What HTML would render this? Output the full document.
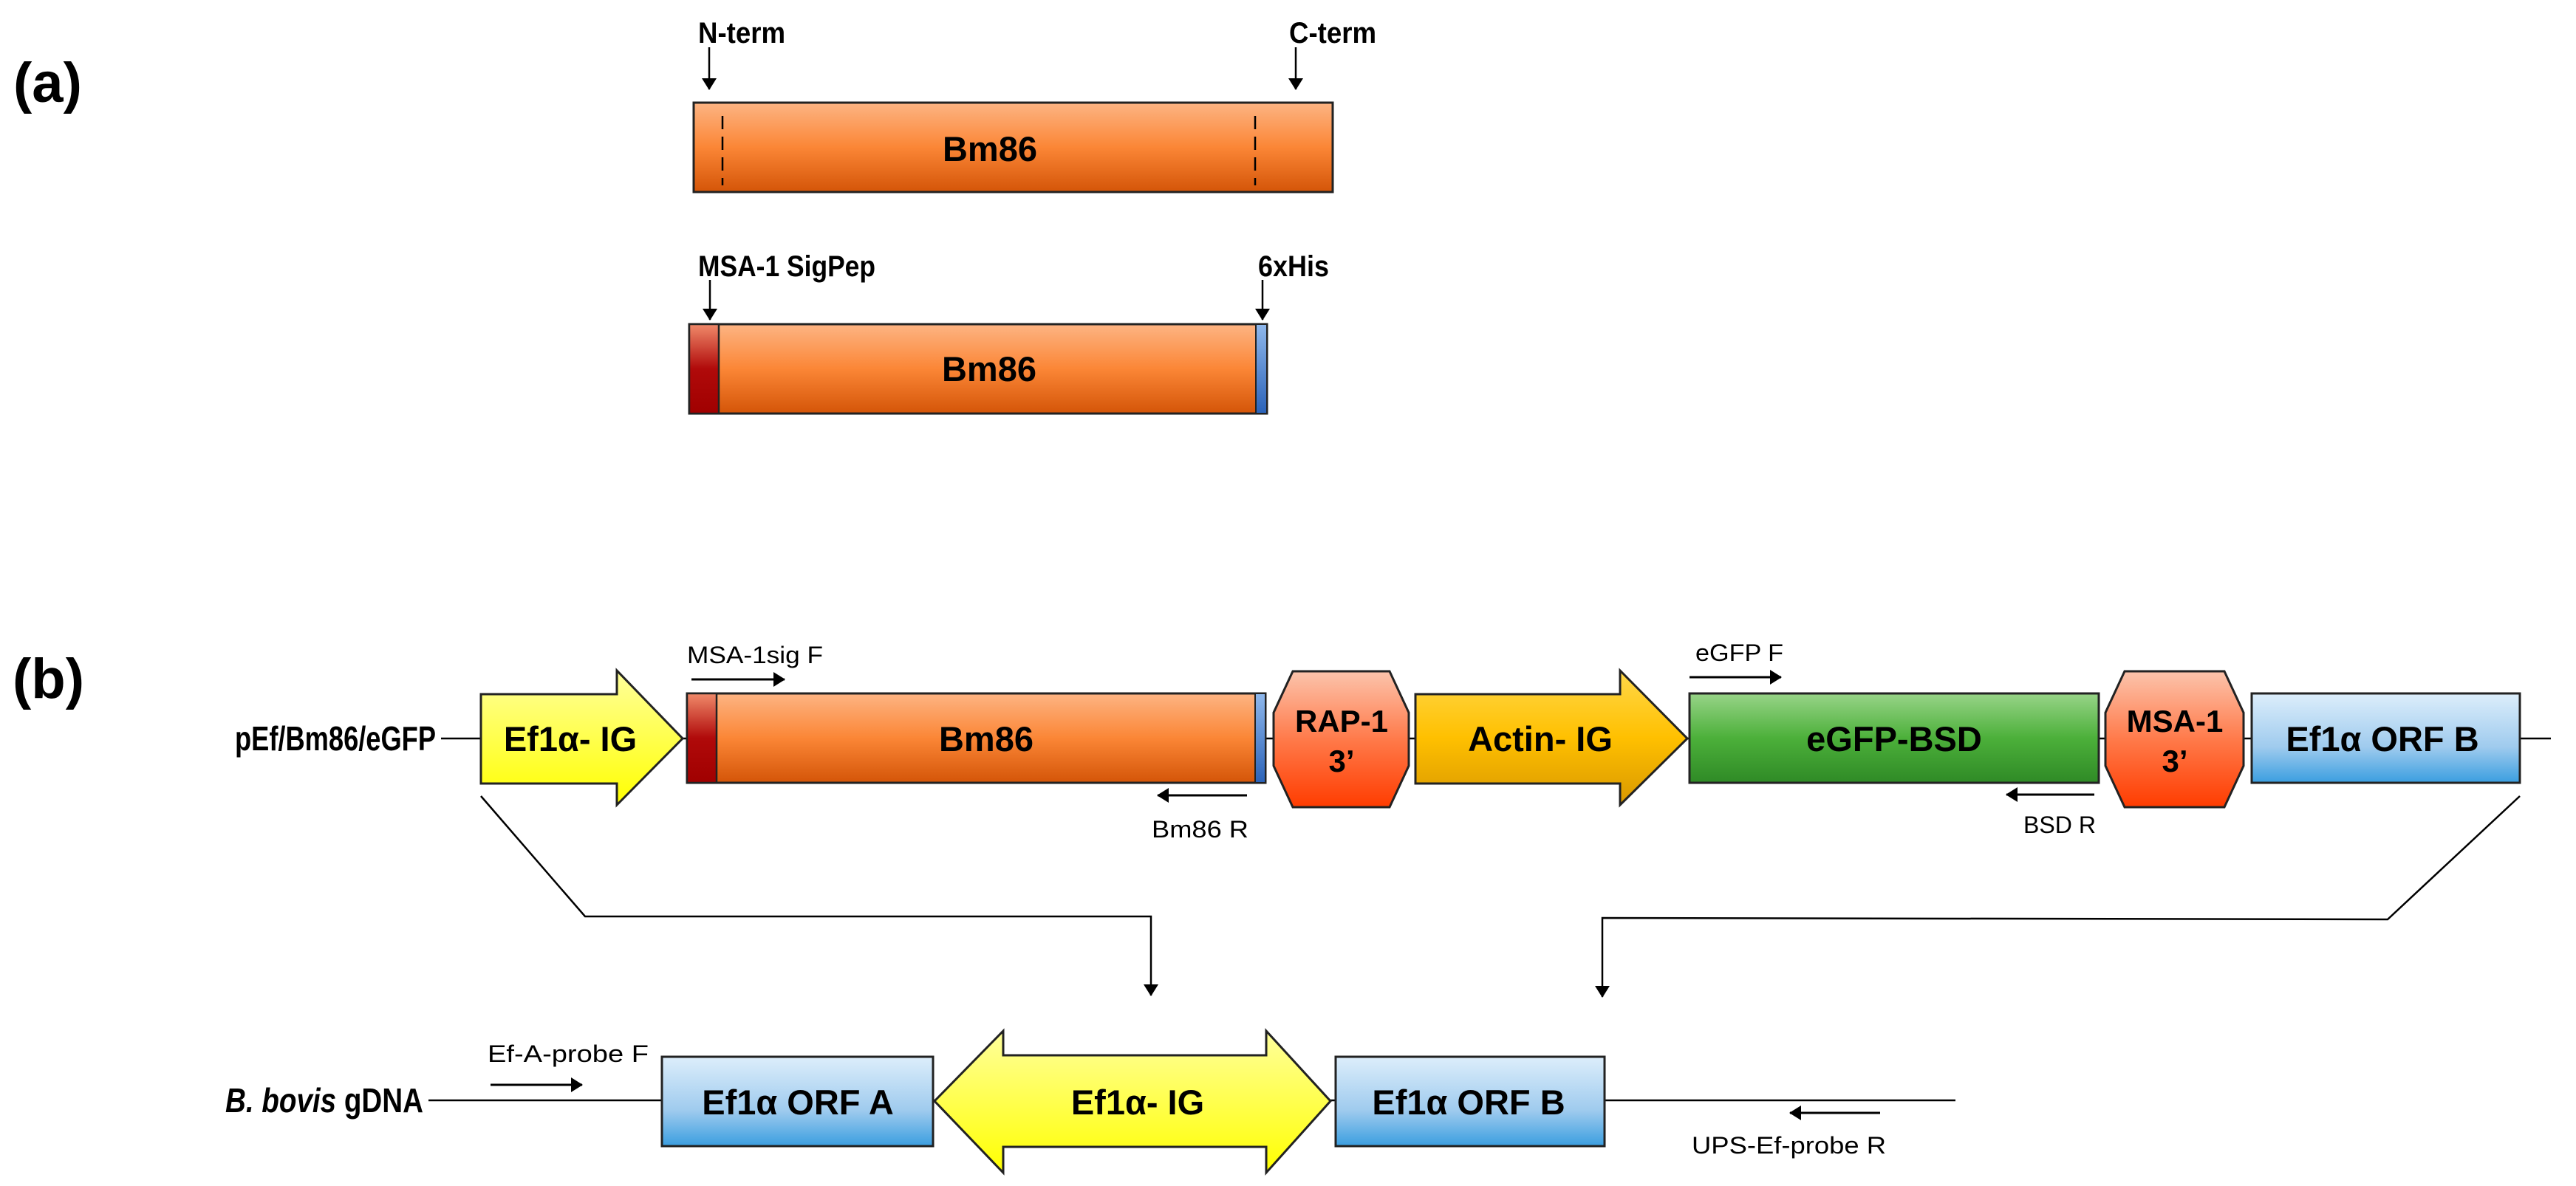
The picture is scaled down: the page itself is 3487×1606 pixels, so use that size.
<!DOCTYPE html>
<html><head><meta charset="utf-8"><style>html,body{margin:0;padding:0;background:#fff}svg{display:block}</style></head>
<body>
<svg width="3487" height="1606" viewBox="0 0 3487 1606" xmlns="http://www.w3.org/2000/svg" font-family="Liberation Sans, Arial, sans-serif">
<defs>
<linearGradient id="or" x1="0" y1="0" x2="0" y2="1"><stop offset="0" stop-color="#fdb483"/><stop offset="0.5" stop-color="#fb8636"/><stop offset="1" stop-color="#d45508"/></linearGradient>
<linearGradient id="rd" x1="0" y1="0" x2="0" y2="1"><stop offset="0" stop-color="#f08a6a"/><stop offset="0.5" stop-color="#b00a0a"/><stop offset="1" stop-color="#a00000"/></linearGradient>
<linearGradient id="bl" x1="0" y1="0" x2="0" y2="1"><stop offset="0" stop-color="#8fb8ec"/><stop offset="1" stop-color="#2a62b8"/></linearGradient>
<linearGradient id="ye" x1="0" y1="0" x2="0" y2="1"><stop offset="0" stop-color="#ffff9c"/><stop offset="1" stop-color="#ffff00"/></linearGradient>
<linearGradient id="ac" x1="0" y1="0" x2="0" y2="1"><stop offset="0" stop-color="#ffd84a"/><stop offset="0.5" stop-color="#ffc000"/><stop offset="1" stop-color="#d99800"/></linearGradient>
<linearGradient id="gr" x1="0" y1="0" x2="0" y2="1"><stop offset="0" stop-color="#98d488"/><stop offset="0.5" stop-color="#4cb03a"/><stop offset="1" stop-color="#2f8a26"/></linearGradient>
<linearGradient id="sb" x1="0" y1="0" x2="0" y2="1"><stop offset="0" stop-color="#ddeefb"/><stop offset="0.6" stop-color="#9fcbee"/><stop offset="1" stop-color="#3a9ee0"/></linearGradient>
<linearGradient id="oc" x1="0" y1="0" x2="0" y2="1"><stop offset="0" stop-color="#fcc4ac"/><stop offset="0.5" stop-color="#ff7a4a"/><stop offset="1" stop-color="#ff3c00"/></linearGradient>
<marker id="ah2" markerWidth="16" markerHeight="20" refX="15" refY="10" orient="auto" markerUnits="userSpaceOnUse"><path d="M0,0 L16,10 L0,20 Z" fill="#000"/></marker>
</defs>

<!-- (a) -->
<text x="18" y="138" font-size="76" font-weight="bold">(a)</text>
<text x="945" y="58" font-size="40" font-weight="bold" textLength="118" lengthAdjust="spacingAndGlyphs">N-term</text>
<text x="1745" y="58" font-size="40" font-weight="bold" textLength="118" lengthAdjust="spacingAndGlyphs">C-term</text>
<line x1="960" y1="64" x2="960" y2="121" stroke="#000" stroke-width="2.5" marker-end="url(#ah2)"/>
<line x1="1754" y1="64" x2="1754" y2="121" stroke="#000" stroke-width="2.5" marker-end="url(#ah2)"/>
<rect x="939" y="139" width="865" height="121" fill="url(#or)" stroke="#222" stroke-width="3"/>
<line x1="978" y1="157" x2="978" y2="251" stroke="#000" stroke-width="2.5" stroke-dasharray="18,10"/>
<line x1="1699" y1="157" x2="1699" y2="251" stroke="#000" stroke-width="2.5" stroke-dasharray="18,10"/>
<text x="1340" y="218" font-size="47" font-weight="bold" text-anchor="middle">Bm86</text>

<text x="945" y="374" font-size="40" font-weight="bold" textLength="240" lengthAdjust="spacingAndGlyphs">MSA-1 SigPep</text>
<text x="1703" y="374" font-size="40" font-weight="bold" textLength="96" lengthAdjust="spacingAndGlyphs">6xHis</text>
<line x1="961" y1="379" x2="961" y2="433" stroke="#000" stroke-width="2.5" marker-end="url(#ah2)"/>
<line x1="1709" y1="379" x2="1709" y2="433" stroke="#000" stroke-width="2.5" marker-end="url(#ah2)"/>
<rect x="933" y="439" width="782" height="121" fill="url(#or)" stroke="#222" stroke-width="3"/>
<rect x="933" y="439" width="40" height="121" fill="url(#rd)" stroke="#222" stroke-width="2.5"/>
<rect x="1700" y="439" width="15" height="121" fill="url(#bl)" stroke="#222" stroke-width="2"/>
<text x="1339" y="516" font-size="47" font-weight="bold" text-anchor="middle">Bm86</text>

<!-- (b) -->
<text x="17" y="945" font-size="76" font-weight="bold">(b)</text>
<line x1="597" y1="1000" x2="3453" y2="1000" stroke="#000" stroke-width="2.5"/>
<text x="318" y="1016" font-size="46" font-weight="bold" textLength="272" lengthAdjust="spacingAndGlyphs">pEf/Bm86/eGFP</text>

<path d="M651,940 L835,940 L835,908 L924,1000 L835,1090 L835,1061 L651,1061 Z" fill="url(#ye)" stroke="#222" stroke-width="3"/>
<text x="772" y="1017" font-size="47" font-weight="bold" text-anchor="middle">Ef1α- IG</text>

<rect x="930" y="939" width="783" height="121" fill="url(#or)" stroke="#222" stroke-width="3"/>
<rect x="930" y="939" width="40" height="121" fill="url(#rd)" stroke="#222" stroke-width="2.5"/>
<rect x="1699" y="939" width="14" height="121" fill="url(#bl)" stroke="#222" stroke-width="2"/>
<text x="1335" y="1017" font-size="47" font-weight="bold" text-anchor="middle">Bm86</text>
<text x="930" y="898" font-size="32" textLength="184" lengthAdjust="spacingAndGlyphs">MSA-1sig F</text>
<line x1="936" y1="920" x2="1062" y2="920" stroke="#000" stroke-width="3" marker-end="url(#ah2)"/>
<line x1="1688" y1="1077" x2="1567" y2="1077" stroke="#000" stroke-width="3" marker-end="url(#ah2)"/>
<text x="1559" y="1134" font-size="32" textLength="131" lengthAdjust="spacingAndGlyphs">Bm86 R</text>

<path d="M1750,909 L1881,909 L1907,965 L1907,1037 L1881,1093 L1750,1093 L1724,1037 L1724,965 Z" fill="url(#oc)" stroke="#222" stroke-width="3"/>
<text x="1816" y="991" font-size="42" font-weight="bold" text-anchor="middle">RAP-1</text>
<text x="1816" y="1045" font-size="42" font-weight="bold" text-anchor="middle">3’</text>

<path d="M1916,940 L2193,940 L2193,908 L2284,1000 L2193,1090 L2193,1061 L1916,1061 Z" fill="url(#ac)" stroke="#222" stroke-width="3"/>
<text x="2085" y="1017" font-size="47" font-weight="bold" text-anchor="middle">Actin- IG</text>

<rect x="2287" y="939" width="554" height="121" fill="url(#gr)" stroke="#222" stroke-width="3"/>
<text x="2564" y="1017" font-size="47" font-weight="bold" text-anchor="middle">eGFP-BSD</text>
<text x="2295" y="895" font-size="32" textLength="119" lengthAdjust="spacingAndGlyphs">eGFP F</text>
<line x1="2287" y1="917" x2="2411" y2="917" stroke="#000" stroke-width="3" marker-end="url(#ah2)"/>
<line x1="2835" y1="1076" x2="2716" y2="1076" stroke="#000" stroke-width="3" marker-end="url(#ah2)"/>
<text x="2739" y="1128" font-size="32" textLength="98" lengthAdjust="spacingAndGlyphs">BSD R</text>

<path d="M2876,909 L3011,909 L3037,965 L3037,1037 L3011,1093 L2876,1093 L2850,1037 L2850,965 Z" fill="url(#oc)" stroke="#222" stroke-width="3"/>
<text x="2944" y="991" font-size="42" font-weight="bold" text-anchor="middle">MSA-1</text>
<text x="2944" y="1045" font-size="42" font-weight="bold" text-anchor="middle">3’</text>

<rect x="3048" y="939" width="363" height="121" fill="url(#sb)" stroke="#222" stroke-width="3"/>
<text x="3225" y="1017" font-size="47" font-weight="bold" text-anchor="middle">Ef1α ORF B</text>

<!-- connectors -->
<polyline points="651,1078 792,1241 1558,1241 1558,1348" fill="none" stroke="#000" stroke-width="2.5" marker-end="url(#ah2)"/>
<polyline points="3411,1078 3232,1245 2169,1243 2169,1350" fill="none" stroke="#000" stroke-width="2.5" marker-end="url(#ah2)"/>

<!-- bottom row -->
<line x1="580" y1="1490" x2="2647" y2="1490" stroke="#000" stroke-width="2.5"/>
<text x="305" y="1506" font-size="46" font-weight="bold" textLength="268" lengthAdjust="spacingAndGlyphs"><tspan font-style="italic">B. bovis</tspan> gDNA</text>
<text x="660" y="1438" font-size="32" textLength="218" lengthAdjust="spacingAndGlyphs">Ef-A-probe F</text>
<line x1="664" y1="1469" x2="788" y2="1469" stroke="#000" stroke-width="3" marker-end="url(#ah2)"/>

<rect x="896" y="1431" width="367" height="121" fill="url(#sb)" stroke="#222" stroke-width="3"/>
<text x="1080" y="1509" font-size="47" font-weight="bold" text-anchor="middle">Ef1α ORF A</text>

<path d="M1265,1491 L1358,1396 L1358,1429 L1714,1429 L1714,1396 L1801,1491 L1714,1588 L1714,1553 L1358,1553 L1358,1588 Z" fill="url(#ye)" stroke="#222" stroke-width="3"/>
<text x="1540" y="1509" font-size="47" font-weight="bold" text-anchor="middle">Ef1α- IG</text>

<rect x="1808" y="1431" width="364" height="121" fill="url(#sb)" stroke="#222" stroke-width="3"/>
<text x="1988" y="1509" font-size="47" font-weight="bold" text-anchor="middle">Ef1α ORF B</text>

<line x1="2545" y1="1507" x2="2423" y2="1507" stroke="#000" stroke-width="3" marker-end="url(#ah2)"/>
<text x="2290" y="1562" font-size="32" textLength="263" lengthAdjust="spacingAndGlyphs">UPS-Ef-probe R</text>
</svg>
</body></html>
